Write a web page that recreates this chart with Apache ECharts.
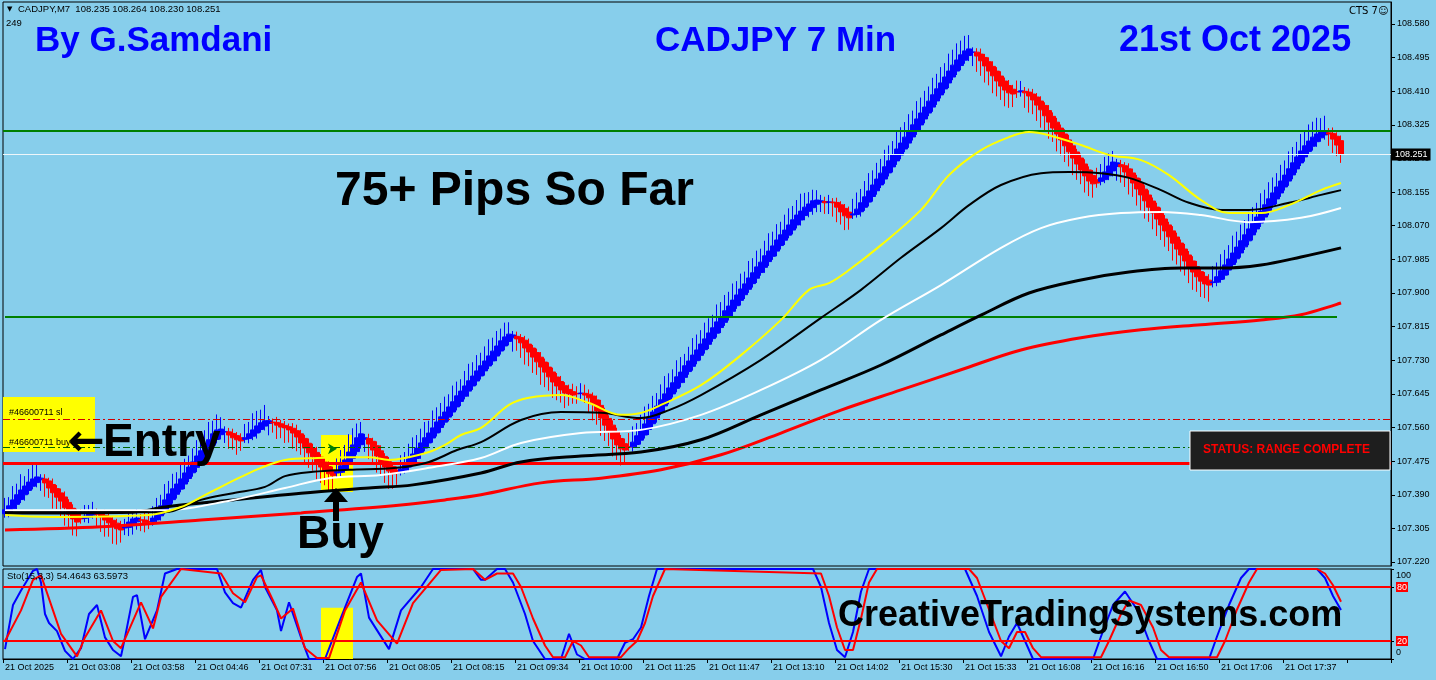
<!DOCTYPE html>
<html>
<head>
<meta charset="utf-8">
<script src="https://cdn.jsdelivr.net/npm/echarts@6/dist/echarts.min.js"></script>
<style>html,body{margin:0;padding:0;background:#87ceeb;}#c{width:1436px;height:680px;}</style>
</head>
<body>
<div id="c"></div>
<script>
// ---------------- DATA ----------------
const timeLabels = ["21 Oct 2025","21 Oct 03:08","21 Oct 03:58","21 Oct 04:46","21 Oct 07:31","21 Oct 07:56","21 Oct 08:05","21 Oct 08:15","21 Oct 09:34","21 Oct 10:00","21 Oct 11:25","21 Oct 11:47","21 Oct 13:10","21 Oct 14:02","21 Oct 15:30","21 Oct 15:33","21 Oct 16:08","21 Oct 16:16","21 Oct 16:50","21 Oct 17:06","21 Oct 17:37"];
const barsPerLabel = 16;
const totalSlots = 347;
const priceTicks = [107.220,107.305,107.390,107.475,107.560,107.645,107.730,107.815,107.900,107.985,108.070,108.155,108.240,108.325,108.410,108.495,108.580];
const stochTicks = [0,20,80,100];

const firstOpen = 107.342;
const closes = [
107.352,107.362,107.377,107.390,107.402,107.412,107.422,107.430,107.435,107.432,
107.420,107.407,107.395,107.384,107.374,107.357,107.341,107.329,107.321,107.329,
107.336,107.344,107.347,107.341,107.334,107.326,107.319,107.311,107.304,107.301,
107.309,107.321,107.329,107.331,107.326,107.319,107.321,107.331,107.347,107.362,
107.377,107.392,107.405,107.417,107.430,107.445,107.460,107.473,107.488,107.501,
107.516,107.529,107.544,107.554,107.556,107.549,107.541,107.534,107.529,107.526,
107.534,107.544,107.554,107.564,107.572,107.577,107.577,107.572,107.566,107.561,
107.559,107.554,107.546,107.536,107.521,107.508,107.496,107.486,107.473,107.460,
107.450,107.443,107.438,107.448,107.463,107.478,107.498,107.516,107.534,107.544,
107.534,107.518,107.503,107.488,107.473,107.460,107.450,107.443,107.445,107.455,
107.468,107.481,107.493,107.508,107.521,107.534,107.546,107.559,107.574,107.587,
107.599,107.612,107.625,107.640,107.652,107.665,107.678,107.690,107.703,107.716,
107.728,107.741,107.753,107.766,107.779,107.789,107.796,107.794,107.784,107.774,
107.761,107.751,107.738,107.726,107.713,107.700,107.688,107.675,107.665,107.655,
107.647,107.645,107.642,107.645,107.647,107.642,107.635,107.620,107.602,107.584,
107.566,107.549,107.531,107.516,107.506,107.503,107.511,107.523,107.539,107.554,
107.569,107.584,107.599,107.614,107.630,107.645,107.660,107.673,107.688,107.700,
107.716,107.728,107.743,107.756,107.771,107.784,107.799,107.812,107.827,107.839,
107.855,107.867,107.882,107.895,107.910,107.923,107.938,107.951,107.966,107.978,
107.994,108.006,108.019,108.034,108.047,108.059,108.072,108.085,108.097,108.107,
108.117,108.125,108.133,108.135,108.133,108.128,108.130,108.128,108.117,108.105,
108.095,108.090,108.100,108.112,108.128,108.143,108.158,108.173,108.188,108.203,
108.219,108.234,108.249,108.264,108.279,108.294,108.310,108.325,108.340,108.355,
108.370,108.385,108.401,108.416,108.431,108.446,108.461,108.476,108.489,108.502,
108.512,108.517,108.509,108.499,108.487,108.474,108.461,108.449,108.436,108.423,
108.413,108.406,108.403,108.408,108.411,108.406,108.398,108.388,108.375,108.363,
108.348,108.332,108.317,108.302,108.287,108.272,108.257,108.241,108.226,108.211,
108.196,108.183,108.176,108.178,108.191,108.206,108.221,108.231,108.229,108.219,
108.206,108.193,108.178,108.163,108.148,108.133,108.117,108.102,108.087,108.072,
108.057,108.042,108.026,108.011,107.996,107.981,107.966,107.953,107.941,107.930,
107.923,107.920,107.928,107.941,107.956,107.971,107.986,108.001,108.016,108.032,
108.047,108.062,108.077,108.092,108.107,108.123,108.138,108.153,108.168,108.183,
108.198,108.214,108.229,108.244,108.259,108.272,108.284,108.294,108.302,108.307,
108.310,108.302,108.289,108.274,108.251
];
// wick lengths above / below each body, in points (0.001)
const wickUp = [
30,22,35,28,40,25,33,38,30,
10,12,8,15,9,11,14,8,10,12,
22,28,20,25,
12,9,14,10,8,11,13,
20,25,18,22,15,19,24,
30,35,28,40,33,38,30,42,36,29,34,40,31,37,45,33,39,30,
14,10,12,9,11,
35,30,42,38,33,40,
12,9,14,10,11,8,13,15,10,9,12,11,14,8,10,13,9,
35,40,38,45,42,36,30,
10,12,9,11,14,8,12,10,9,
35,30,38,42,33,36,40,31,44,37,35,39,32,41,36,30,38,43,35,40,33,37,42,34,38,31,36,30,
10,12,9,11,14,8,10,13,9,12,11,10,14,9,12,
20,18,25,22,
12,9,11,14,10,8,12,11,9,13,
35,40,32,38,44,36,41,33,39,45,37,34,42,38,30,36,43,39,35,41,37,33,44,38,40,36,42,35,39,31,43,37,41,34,38,45,36,40,33,39,42,35,38,44,36,30,28,25,
15,12,18,10,12,9,11,14,
38,42,35,40,45,37,41,36,43,39,35,44,40,38,42,36,45,39,41,37,43,38,40,35,44,39,42,36,38,35,
12,10,14,9,11,13,10,12,9,14,11,
28,25,
11,9,13,10,12,8,14,10,11,9,12,13,10,8,11,12,9,14,
30,35,38,32,28,
10,12,9,14,11,8,13,10,12,9,11,14,10,8,12,11,9,13,10,12,14,9,11,15,
40,36,42,38,35,44,39,41,37,43,40,36,45,38,42,39,35,41,37,44,40,38,43,36,42,39,41,35,38,
12,15,10,13
];
const wickDn = [
10,14,8,12,9,15,10,8,12,
28,35,25,40,30,38,45,33,42,36,
12,10,15,9,
30,38,42,35,45,40,32,
18,22,25,20,28,24,18,
10,8,12,9,14,10,11,8,13,9,10,12,8,11,9,14,10,12,
28,35,30,38,25,
9,12,10,14,8,11,
30,25,35,28,38,32,40,36,30,42,38,35,44,40,36,45,38,
10,12,9,14,11,8,10,
32,38,35,42,36,40,45,38,30,
10,8,12,9,11,14,8,10,12,9,13,8,11,10,9,12,8,14,10,11,9,12,8,10,13,9,11,10,
35,30,38,42,36,40,33,45,38,35,40,36,32,38,30,
22,25,18,20,
38,42,35,45,40,36,44,38,42,35,
10,12,8,11,9,14,10,12,8,13,11,9,10,12,14,8,11,9,13,10,12,8,11,14,9,10,12,8,13,11,9,10,12,8,14,11,9,13,10,12,8,11,9,14,12,15,18,20,
25,28,30,35,38,32,36,30,
10,8,12,9,11,13,10,8,12,9,14,10,11,8,12,9,10,13,11,8,12,10,9,11,13,8,10,12,9,14,
35,40,38,42,36,44,39,35,41,38,33,
15,12,
38,42,36,40,45,38,42,35,44,39,41,37,43,40,36,42,38,35,
12,10,9,11,14,
36,40,38,44,35,42,39,45,37,41,43,38,40,36,44,39,42,37,41,45,38,40,36,42,
12,10,8,11,13,9,10,12,8,11,14,9,10,12,11,8,13,10,9,12,11,10,8,12,9,11,13,10,12,
30,35,28,22
];

// moving averages: [bar index, price]
const maYellow = [[0,107.339],[11,107.334],[36,107.339],[44,107.359],[49,107.384],[54,107.410],[59,107.435],[64,107.458],[70,107.478],[78,107.483],[86,107.485],[91,107.485],[96,107.478],[100,107.483],[106,107.498],[110,107.516],[114,107.541],[119,107.559],[126,107.617],[131,107.635],[139,107.642],[146,107.622],[154,107.592],[159,107.597],[164,107.617],[174,107.667],[184,107.743],[194,107.832],[201,107.908],[206,107.925],[211,107.958],[219,108.021],[229,108.110],[236,108.198],[244,108.261],[251,108.294],[256,108.307],[261,108.299],[269,108.274],[276,108.249],[284,108.236],[291,108.198],[299,108.135],[306,108.102],[314,108.102],[321,108.122],[329,108.160],[334,108.178]];
const maBlackThin = [[0,107.346],[40,107.346],[49,107.377],[57,107.394],[65,107.410],[70,107.437],[77,107.448],[86,107.453],[98,107.458],[106,107.473],[113,107.503],[119,107.523],[129,107.579],[139,107.599],[149,107.597],[159,107.584],[166,107.604],[174,107.642],[189,107.731],[204,107.837],[214,107.908],[224,107.989],[234,108.064],[241,108.122],[249,108.173],[259,108.203],[266,108.206],[274,108.203],[281,108.191],[289,108.160],[296,108.128],[304,108.110],[311,108.110],[321,108.128],[329,108.148],[334,108.160]];
const maWhite = [[0,107.351],[40,107.351],[57,107.377],[70,107.407],[81,107.432],[94,107.440],[106,107.458],[119,107.483],[129,107.521],[144,107.546],[159,107.554],[174,107.592],[189,107.655],[204,107.731],[219,107.832],[234,107.920],[249,108.014],[259,108.064],[269,108.090],[279,108.102],[289,108.105],[299,108.097],[311,108.079],[324,108.090],[334,108.115]];
const maBlackThick = [[0,107.344],[32,107.346],[40,107.359],[57,107.377],[74,107.394],[91,107.407],[102,107.415],[119,107.445],[129,107.473],[144,107.488],[159,107.498],[174,107.529],[189,107.592],[204,107.655],[219,107.718],[234,107.794],[244,107.844],[256,107.900],[269,107.933],[281,107.953],[294,107.963],[304,107.963],[314,107.971],[324,107.991],[334,108.014]];
const maRed = [[0,107.301],[24,107.309],[49,107.326],[74,107.344],[99,107.364],[110,107.377],[119,107.390],[134,107.420],[149,107.432],[164,107.453],[179,107.491],[194,107.546],[209,107.604],[224,107.655],[239,107.706],[254,107.756],[269,107.787],[284,107.807],[299,107.820],[314,107.832],[324,107.845],[334,107.875]];

// horizontal levels
const upperGreen = 108.305;
const lowerGreen = 107.839;
const lowerGreenEnd = 333;
const bidPrice = 108.251;
const redLevel = 107.465;
const slLevel = 107.581;
const buyLevel = 107.506;
const buyBar = 83;
const highlightBars = [79, 87];
const highlightPrices = [107.397, 107.541];
const stochHighlightTop = 57;

// stochastic (15,3,3): [bar index, value]
const stochK = [[0,11],[2,60],[4,76],[7,98],[8,100],[9,85],[10,50],[11,40],[13,31],[15,9],[17,0],[19,12],[21,50],[23,60],[25,24],[27,10],[29,3],[30,24],[32,69],[33,71],[35,22],[38,54],[40,95],[43,100],[53,100],[55,74],[57,62],[59,57],[62,88],[64,99],[65,80],[68,54],[69,31],[71,63],[74,24],[76,0],[80,0],[84,46],[88,91],[89,95],[91,46],[96,11],[99,54],[104,80],[107,100],[117,100],[119,88],[120,88],[123,100],[125,100],[127,85],[130,50],[132,20],[135,0],[139,0],[141,28],[143,5],[145,0],[153,0],[155,18],[157,22],[159,35],[161,70],[163,100],[202,100],[204,80],[206,40],[208,10],[210,2],[212,30],[214,75],[216,100],[240,100],[243,70],[246,30],[249,3],[251,25],[253,40],[255,20],[257,0],[272,0],[274,25],[277,60],[280,75],[283,55],[286,20],[288,0],[301,0],[303,25],[306,60],[309,90],[311,100],[328,100],[330,90],[332,70],[334,54.4643]];
const stochD = [[0,20],[4,54],[7,88],[9,93],[12,54],[14,28],[18,3],[20,24],[24,54],[27,20],[29,12],[34,63],[37,34],[39,69],[44,100],[54,95],[57,73],[60,63],[63,91],[64,93],[67,65],[69,45],[72,56],[75,12],[78,1],[81,1],[85,54],[89,85],[93,43],[98,17],[102,62],[109,99],[117,100],[120,88],[123,95],[127,95],[129,80],[132,45],[135,15],[137,2],[140,2],[142,20],[144,15],[146,2],[154,2],[156,12],[158,20],[160,40],[162,70],[165,100],[204,95],[206,70],[208,35],[210,10],[212,10],[214,45],[216,85],[218,100],[241,100],[243,90],[246,55],[249,20],[251,12],[253,30],[255,30],[257,12],[259,2],[274,2],[276,20],[279,50],[281,65],[284,60],[287,35],[289,10],[291,2],[303,2],[305,20],[308,55],[311,85],[313,100],[328,100],[330,95],[332,82],[334,63.5973]];
const stochLevels = [80, 20];

// ---------------- BUILD ----------------
const cats = Array.from({length: totalSlots}, (_, i) => String(i));
// Heiken-Ashi style bodies: each open sits at the middle of the previous body
const candles = [];
let prevO = firstOpen, prevC = firstOpen;
closes.forEach((c, i) => {
  const o = i === 0 ? firstOpen : (prevO + prevC) / 2;
  candles.push([o, c, Math.min(o, c) - wickDn[i] / 1000, Math.max(o, c) + wickUp[i] / 1000]);
  prevO = o; prevC = c;
});

const FONT = 'Liberation Sans';
const chart = echarts.init(document.getElementById('c'), null, {renderer: 'canvas'});

function ma(name, data, color, width, z) {
  return {name, type: 'line', xAxisIndex: 0, yAxisIndex: 0, data, smooth: 0.35, symbol: 'none',
    lineStyle: {color, width}, z, silent: true, animation: false};
}

const dashDot = [7, 3, 2, 3];

const option = {
  backgroundColor: '#87ceeb',
  animation: false,
  grid: [
    {left: 3, top: 2, width: 1388, height: 564, show: true, borderColor: '#000', borderWidth: 1, backgroundColor: 'transparent'},
    {left: 3, top: 569, width: 1388, height: 90, show: true, borderColor: '#000', borderWidth: 1, backgroundColor: 'transparent'}
  ],
  xAxis: [
    {type: 'category', gridIndex: 0, data: cats, boundaryGap: true, axisLine: {show: false}, axisTick: {show: false}, axisLabel: {show: false}, splitLine: {show: false}},
    {type: 'category', gridIndex: 1, data: cats, boundaryGap: true,
      axisLine: {show: true, lineStyle: {color: '#000', width: 1}},
      axisTick: {show: true, interval: barsPerLabel - 1, length: 4, lineStyle: {color: '#000'}},
      axisLabel: {show: true, interval: barsPerLabel - 1, align: 'left', margin: 4, fontSize: 9, fontFamily: FONT, color: '#000',
        formatter: (v, idx) => (idx % barsPerLabel === 0 && timeLabels[idx / barsPerLabel]) ? timeLabels[idx / barsPerLabel] : ''},
      splitLine: {show: false}}
  ],
  yAxis: [
    {type: 'value', gridIndex: 0, position: 'right', min: 107.2099, max: 108.6356, scale: true,
      axisLine: {show: true, lineStyle: {color: '#000'}},
      axisTick: {show: true, length: 4, lineStyle: {color: '#000'}, customValues: priceTicks},
      axisLabel: {show: true, margin: 6, fontSize: 9, fontFamily: FONT, color: '#000', customValues: priceTicks, formatter: v => v.toFixed(3)},
      splitLine: {show: false}},
    {type: 'value', gridIndex: 1, position: 'right', min: 0, max: 100,
      axisLine: {show: true, lineStyle: {color: '#000'}},
      axisTick: {show: true, length: 3, lineStyle: {color: '#000'}, customValues: stochTicks},
      axisLabel: {show: true, margin: 5, fontSize: 9, fontFamily: FONT, color: '#000', customValues: stochTicks,
        formatter: v => (v === 80 || v === 20) ? '{r|' + v + '}' : (v === 100 ? '{t|100}' : '{b|0}'),
        rich: {r: {backgroundColor: '#ff0000', color: '#ffffff', fontSize: 9, padding: [1, 1, 0, 1], fontFamily: FONT},
               t: {fontSize: 9, padding: [14, 0, 0, 0], fontFamily: FONT, color: '#000'},
               b: {fontSize: 9, padding: [0, 0, 12, 0], fontFamily: FONT, color: '#000'}}},
      splitLine: {show: false}}
  ],
  series: [
    {name: 'price', type: 'candlestick', xAxisIndex: 0, yAxisIndex: 0, data: candles, barWidth: 5, z: 3,
      itemStyle: {color: '#0000ff', color0: '#ff0000', borderColor: '#0000ff', borderColor0: '#ff0000', borderWidth: 1},
      markArea: {silent: true, itemStyle: {color: '#ffff00'}, z: 1,
        data: [[{xAxis: highlightBars[0], yAxis: highlightPrices[0]}, {xAxis: highlightBars[1], yAxis: highlightPrices[1]}]]},
      markPoint: {silent: true, symbol: 'arrow', symbolSize: [8, 9], symbolRotate: -90, itemStyle: {color: '#008000'}, label: {show: false},
        data: [{coord: [buyBar, buyLevel]}]}
    },
    ma('MA red', maRed, '#ff0000', 3, 4),
    ma('MA black thick', maBlackThick, '#000000', 3, 5),
    ma('MA white', maWhite, '#ffffff', 2, 6),
    ma('MA black thin', maBlackThin, '#000000', 2, 7),
    ma('MA yellow', maYellow, '#ffff00', 2, 8),
    {name: 'levels', type: 'line', xAxisIndex: 0, yAxisIndex: 0, data: [], z: 9, symbol: 'none',
      markLine: {silent: true, symbol: ['none', 'none'], animation: false,
        label: {show: false},
        data: [
          {yAxis: upperGreen, lineStyle: {color: '#008000', width: 2, type: 'solid'}},
          [{coord: [0, lowerGreen], lineStyle: {color: '#008000', width: 2, type: 'solid'}}, {coord: [lowerGreenEnd, lowerGreen]}],
          {yAxis: redLevel, lineStyle: {color: '#ff0000', width: 3, type: 'solid'}},
          {yAxis: slLevel, lineStyle: {color: '#d00000', width: 1, type: dashDot}},
          {yAxis: buyLevel, lineStyle: {color: '#006400', width: 1, type: dashDot}},
          {yAxis: bidPrice, lineStyle: {color: '#eef6fa', width: 1, type: 'solid'},
            label: {show: true, position: 'end', distance: 1, formatter: () => bidPrice.toFixed(3), backgroundColor: '#000', color: '#fff', fontSize: 9, fontFamily: FONT, padding: [2, 3, 1, 3]}}
        ]}
    },
    {name: '%K', type: 'line', xAxisIndex: 1, yAxisIndex: 1, data: stochK, symbol: 'none', lineStyle: {color: '#0000ff', width: 2}, z: 4,
      markArea: {silent: true, itemStyle: {color: '#ffff00'}, z: 1,
        data: [[{xAxis: highlightBars[0], yAxis: 0}, {xAxis: highlightBars[1], yAxis: stochHighlightTop}]]}},
    {name: '%D', type: 'line', xAxisIndex: 1, yAxisIndex: 1, data: stochD, symbol: 'none', lineStyle: {color: '#ff0000', width: 2}, z: 5,
      markLine: {silent: true, symbol: ['none', 'none'], label: {show: false}, lineStyle: {color: '#ff0000', width: 2, type: 'solid'},
        data: stochLevels.map(v => ({yAxis: v}))}}
  ],
  graphic: [
    {type: 'rect', shape: {x: 3, y: 397, width: 92, height: 55}, style: {fill: '#ffff00'}, z: 0},
    {type: 'text', left: 9, top: 408, style: {text: '#46600711 sl', font: '9px "Liberation Sans"', fill: '#000'}, z: 20},
    {type: 'text', left: 9, top: 438, style: {text: '#46600711 buy', font: '9px "Liberation Sans"', fill: '#000'}, z: 20},
    {type: 'text', left: 7, top: 6, style: {text: '▼', font: '7px "DejaVu Sans"', fill: '#000'}, z: 20},
    {type: 'text', left: 18, top: 4, style: {text: 'CADJPY,M7  108.235 108.264 108.230 108.251', font: '9.5px "Liberation Sans"', fill: '#000'}, z: 20},
    {type: 'text', left: 6, top: 18, style: {text: '249', font: '9.5px "Liberation Sans"', fill: '#000'}, z: 20},
    {type: 'text', left: 1349, top: 6, style: {text: 'CTS 7☺', font: '10px "DejaVu Sans"', fill: '#000'}, z: 20},
    {type: 'text', left: 7, top: 571, style: {text: 'Sto(15,3,3) 54.4643 63.5973', font: '9.5px "Liberation Sans"', fill: '#000'}, z: 20},
    {type: 'text', left: 35, top: 24, style: {text: 'By G.Samdani', font: 'bold 35px "Liberation Sans"', fill: '#0000ff'}, z: 20},
    {type: 'text', left: 655, top: 24, style: {text: 'CADJPY 7 Min', font: 'bold 35px "Liberation Sans"', fill: '#0000ff'}, z: 20},
    {type: 'text', left: 1119, top: 23, style: {text: '21st Oct 2025', font: 'bold 36px "Liberation Sans"', fill: '#0000ff'}, z: 20},
    {type: 'text', left: 335, top: 168, style: {text: '75+ Pips So Far', font: 'bold 48px "Liberation Sans"', fill: '#000'}, z: 20},
    {type: 'text', left: 68, top: 422, style: {text: '←', font: 'bold 44px "DejaVu Sans"', fill: '#000'}, z: 20},
    {type: 'text', left: 103, top: 420, style: {text: 'Entry', font: 'bold 46px "Liberation Sans"', fill: '#000'}, z: 20},
    {type: 'polygon', shape: {points: [[336, 488], [324, 502], [333, 502], [333, 521], [339, 521], [339, 502], [348, 502]]}, style: {fill: '#000'}, z: 20},
    {type: 'text', left: 297, top: 512, style: {text: 'Buy', font: 'bold 46px "Liberation Sans"', fill: '#000'}, z: 20},
    {type: 'text', left: 838, top: 598, style: {text: 'CreativeTradingSystems.com', font: 'bold 36px "Liberation Sans"', fill: '#000'}, z: 20},
    {type: 'rect', shape: {x: 1190, y: 431, width: 200, height: 39}, style: {fill: '#1e1e1e', stroke: '#ffffff', lineWidth: 1}, z: 30},
    {type: 'text', left: 1203, top: 444, style: {text: 'STATUS: RANGE COMPLETE', font: 'bold 12px "Liberation Sans"', fill: '#ff0000'}, z: 31}
  ]
};
chart.setOption(option);
</script>
</body>
</html>
